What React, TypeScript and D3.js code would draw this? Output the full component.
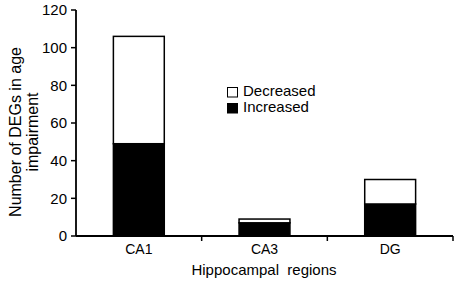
import React from "react";
import * as d3 from "d3";

const categories = ["CA1", "CA3", "DG"];
const increased = [49, 7, 17];
const decreased = [57, 2, 13];
const yTicks = [0, 20, 40, 60, 80, 100, 120];
const seriesNames = ["Decreased", "Increased"];
const yLabelLines = ["Number of DEGs in age", "impairment"];
const xLabel = "Hippocampal  regions";

const W = 459;
const H = 282;
const FONT = "'Liberation Sans', Arial, sans-serif";

export default function App() {
  const x = d3.scaleBand<string>().domain(categories).range([76, 453]).padding(0);
  const y = d3.scaleLinear().domain([0, 120]).range([236, 10]);
  const barW = x.bandwidth() * 0.405;
  const stack = d3.stack<any>().keys(["inc", "dec"])(
    categories.map((c, i) => ({ cat: c, inc: increased[i], dec: decreased[i] }))
  );
  const fills = ["#000", "#fff"];
  const x0 = x.range()[0];
  const x1 = x.range()[1];

  return (
    <svg
      width={W}
      height={H}
      style={{ position: "fixed", left: 0, top: 0, background: "#fff" }}
      fontFamily={FONT}
    >
      {/* bars */}
      {stack.map((layer, li) =>
        layer.map((d, i) => (
          <rect
            key={`${li}-${i}`}
            x={(x(categories[i]) as number) + x.bandwidth() / 2 - barW / 2}
            y={y(d[1])}
            width={barW}
            height={y(d[0]) - y(d[1])}
            fill={fills[li]}
            stroke="#000"
            strokeWidth={1.5}
          />
        ))
      )}
      {/* y axis */}
      <line x1={x0} x2={x0} y1={y(120)} y2={y(0)} stroke="#000" strokeWidth={1.8} />
      {yTicks.map((t) => (
        <g key={t}>
          <line x1={x0 - 5} x2={x0} y1={y(t)} y2={y(t)} stroke="#000" strokeWidth={1.5} />
          <text x={x0 - 9} y={y(t)} dy="0.36em" textAnchor="end" fontSize={15}>
            {t}
          </text>
        </g>
      ))}
      {/* x axis */}
      <line x1={x0} x2={x1} y1={y(0)} y2={y(0)} stroke="#000" strokeWidth={1.8} />
      {categories.map((c) => (
        <g key={c}>
          <line
            x1={(x(c) as number) + x.bandwidth()}
            x2={(x(c) as number) + x.bandwidth()}
            y1={y(0)}
            y2={y(0) + 5}
            stroke="#000"
            strokeWidth={1.5}
          />
          <text x={(x(c) as number) + x.bandwidth() / 2} y={253.5} textAnchor="middle" fontSize={14}>
            {c}
          </text>
        </g>
      ))}
      <text x={264} y={275} textAnchor="middle" fontSize={15} style={{ whiteSpace: "pre" }}>
        {xLabel}
      </text>
      {/* y label */}
      <g transform={`translate(0, ${(y(0) + y(120)) / 2 + 9}) rotate(-90)`}>
        <text x={0} y={21} textAnchor="middle" fontSize={16}>
          {yLabelLines[0]}
        </text>
        <text x={0} y={38} textAnchor="middle" fontSize={16}>
          {yLabelLines[1]}
        </text>
      </g>
      {/* legend */}
      {seriesNames.map((s, i) => (
        <g key={s} transform={`translate(227, ${87 + i * 16})`}>
          <rect x={0.5} y={0.5} width={10} height={9.5} fill={i === 0 ? "#fff" : "#000"} stroke="#000" strokeWidth={1} />
          <text x={16} y={9} fontSize={15}>
            {s}
          </text>
        </g>
      ))}
    </svg>
  );
}
